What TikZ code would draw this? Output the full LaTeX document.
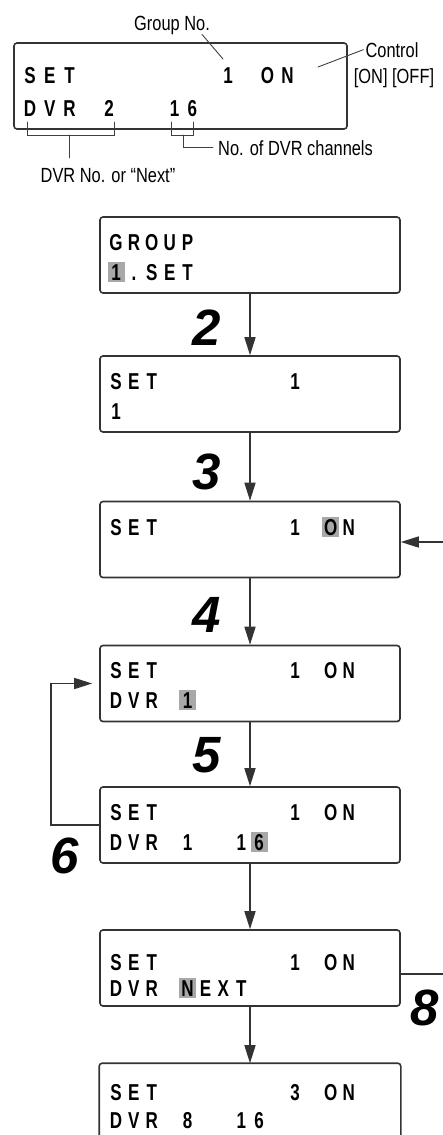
\documentclass[tikz,border=0pt]{standalone}
\usepackage{fontspec}
\usetikzlibrary{arrows.meta}
\newfontfamily\lcdfont[FakeStretch=0.74]{Liberation Sans}
\newfontfamily\notefont[FakeStretch=0.8]{Liberation Sans}
\newfontfamily\stepfont{Liberation Sans}
\definecolor{lcdgray}{gray}{0.66}
\definecolor{framegray}{gray}{0.2}

\begin{document}
\begin{tikzpicture}[x=1pt,y=-1pt,>={Triangle[length=18pt,width=11pt]},line cap=round,
  lcdbox/.style={draw=framegray,line width=1.6pt,rounded corners=3pt,minimum width=300pt,minimum height=76pt,inner sep=0pt},
  ch/.style={font=\lcdfont\bfseries\fontsize{23}{23}\selectfont,inner sep=0pt,text height=16.4pt,text depth=0pt},
  hi/.style={ch,fill=lcdgray,minimum width=17pt,minimum height=20pt},
  note/.style={font=\notefont\fontsize{20.5}{20.5}\selectfont,inner sep=0pt},
  stepno/.style={font=\stepfont\bfseries\itshape\fontsize{51}{51}\selectfont,inner sep=0pt},
  flow/.style={->,line width=1.6pt,draw=framegray},
  lead/.style={line width=0.9pt,draw=black!75}]
\useasboundingbox (0,0) rectangle (443,1135);
% legend display
\node[lcdbox,minimum width=333pt,minimum height=86pt] (disp) at (180.5,86) {};
\foreach \c/\t in {0/S,1/E,2/T,10/1,12/O,13/N} \node[ch] (d1-\c) at ({30+19.8*\c},75) {\t};
\foreach \c/\t in {0/D,1/V,2/R,4/2,7.3/1,8.2/6} \node[ch] (d2-\c) at ({30+19.8*\c},108) {\t};
\node[note,anchor=base] (grpno) at (172,30) {Group No.};
\node[note,anchor=base] (ctrl) at (392,57) {Control};
\node[note,anchor=base] (onoff) at (394,83) {[ON] [OFF]};
\node[note,anchor=base west] (chno) at (218,155) {No. of DVR channels};
\node[note,anchor=base] (dvrno) at (108,182) {DVR No. or “Next”};
\draw[lead] ([xshift=-8pt]grpno.south east) -- (223,59);
\draw[lead] ([xshift=-2pt]ctrl.west) -- (318,67);
\draw[lead] (27,122) |- (114,135) -- (114,122);
\draw[lead] (69,135) -- (69,158);
\draw[lead] (171,122) |- (193,135) -- (193,122);
\draw[lead,shorten >=5pt] (183,135) |- (chno.west);
% screens
\node[lcdbox] (b1) at (250,255) {};
\node[lcdbox] (b2) at (250,394) {};
\node[lcdbox] (b3) at (250,539.5) {};
\node[lcdbox] (b4) at (250,683.5) {};
\node[lcdbox] (b5) at (250,825) {};
\node[lcdbox] (b6) at (250,968) {};
\node[lcdbox,draw=none,minimum height=71pt] (b7) at (250,1099.5) {};
\draw[framegray,line width=1.6pt,rounded corners=3pt] (b7.south west) |- (b7.north east) -- (b7.south east);
\foreach \c/\t in {0/G,1/R,2/O,3/U,4/P} \node[ch] (b1a-\c) at ({116+17.9*\c},242) {\t};
\node[hi] (b1b-0) at (116,272) {1};
\foreach \c/\t in {1/.,2/S,3/E,4/T} \node[ch] (b1b-\c) at ({116+17.9*\c},272) {\t};
\foreach \c/\t in {0/S,1/E,2/T,10/1} \node[ch] (b2a-\c) at ({116+17.9*\c},381) {\t};
\node[ch] (b2b-0) at (116,411) {1};
\foreach \c/\t in {0/S,1/E,2/T,10/1,13/N} \node[ch] (b3a-\c) at ({116+17.9*\c},527) {\t};
\node[hi] (b3a-12) at ({116+17.9*12},527) {O};
\foreach \c/\t in {0/S,1/E,2/T,10/1,12/O,13/N} \node[ch] (b4a-\c) at ({116+17.9*\c},670) {\t};
\foreach \c/\t in {0/D,1/V,2/R} \node[ch] (b4b-\c) at ({116+17.9*\c},700) {\t};
\node[hi] (b4b-4) at ({116+17.9*4},700) {1};
\foreach \c/\t in {0/S,1/E,2/T,10/1,12/O,13/N} \node[ch] (b5a-\c) at ({116+17.9*\c},812) {\t};
\foreach \c/\t in {0/D,1/V,2/R,4/1,7/1} \node[ch] (b5b-\c) at ({116+17.9*\c},842) {\t};
\node[hi] (b5b-8) at ({116+17.9*8},842) {6};
\foreach \c/\t in {0/S,1/E,2/T,10/1,12/O,13/N} \node[ch] (b6a-\c) at ({116+17.9*\c},962) {\t};
\foreach \c/\t in {0/D,1/V,2/R,5/E,6/X,7/T} \node[ch] (b6b-\c) at ({116+17.9*\c},988) {\t};
\node[hi] (b6b-4) at ({116+17.9*4},988) {N};
\foreach \c/\t in {0/S,1/E,2/T,10/3,12/O,13/N} \node[ch] (b7a-\c) at ({116+17.9*\c},1092) {\t};
\foreach \c/\t in {0/D,1/V,2/R,4/8,7/1,8/6} \node[ch] (b7b-\c) at ({116+17.9*\c},1120) {\t};
% steps
\draw[flow] (b1.south) -- (b2.north);
\draw[flow] (b2.south) -- (b3.north);
\draw[flow] (b3.south) -- (b4.north);
\draw[flow] (b4.south) -- (b5.north);
\draw[flow] (b5.south) -- (b6.north);
\draw[flow] (b6.south) -- (b7.north);
\draw[flow,shorten >=7pt] (b5.west) -- ++(-48,0) |- (b4.west);
\coordinate (in3) at (443,542);
\draw[flow] (in3) -- (in3 -| b3.east);
\coordinate (out6) at (443,974);
\draw[framegray,line width=1.6pt] (out6 -| b6.east) -- (out6);
\node[stepno] (n2) at (207,328) {2};
\node[stepno] (n3) at (207,472) {3};
\node[stepno] (n4) at (207,615) {4};
\node[stepno] (n5) at (207,755) {5};
\node[stepno] (n6) at (65,856) {6};
\node[stepno] (n8) at (425,1008) {8};
\end{tikzpicture}
\end{document}
